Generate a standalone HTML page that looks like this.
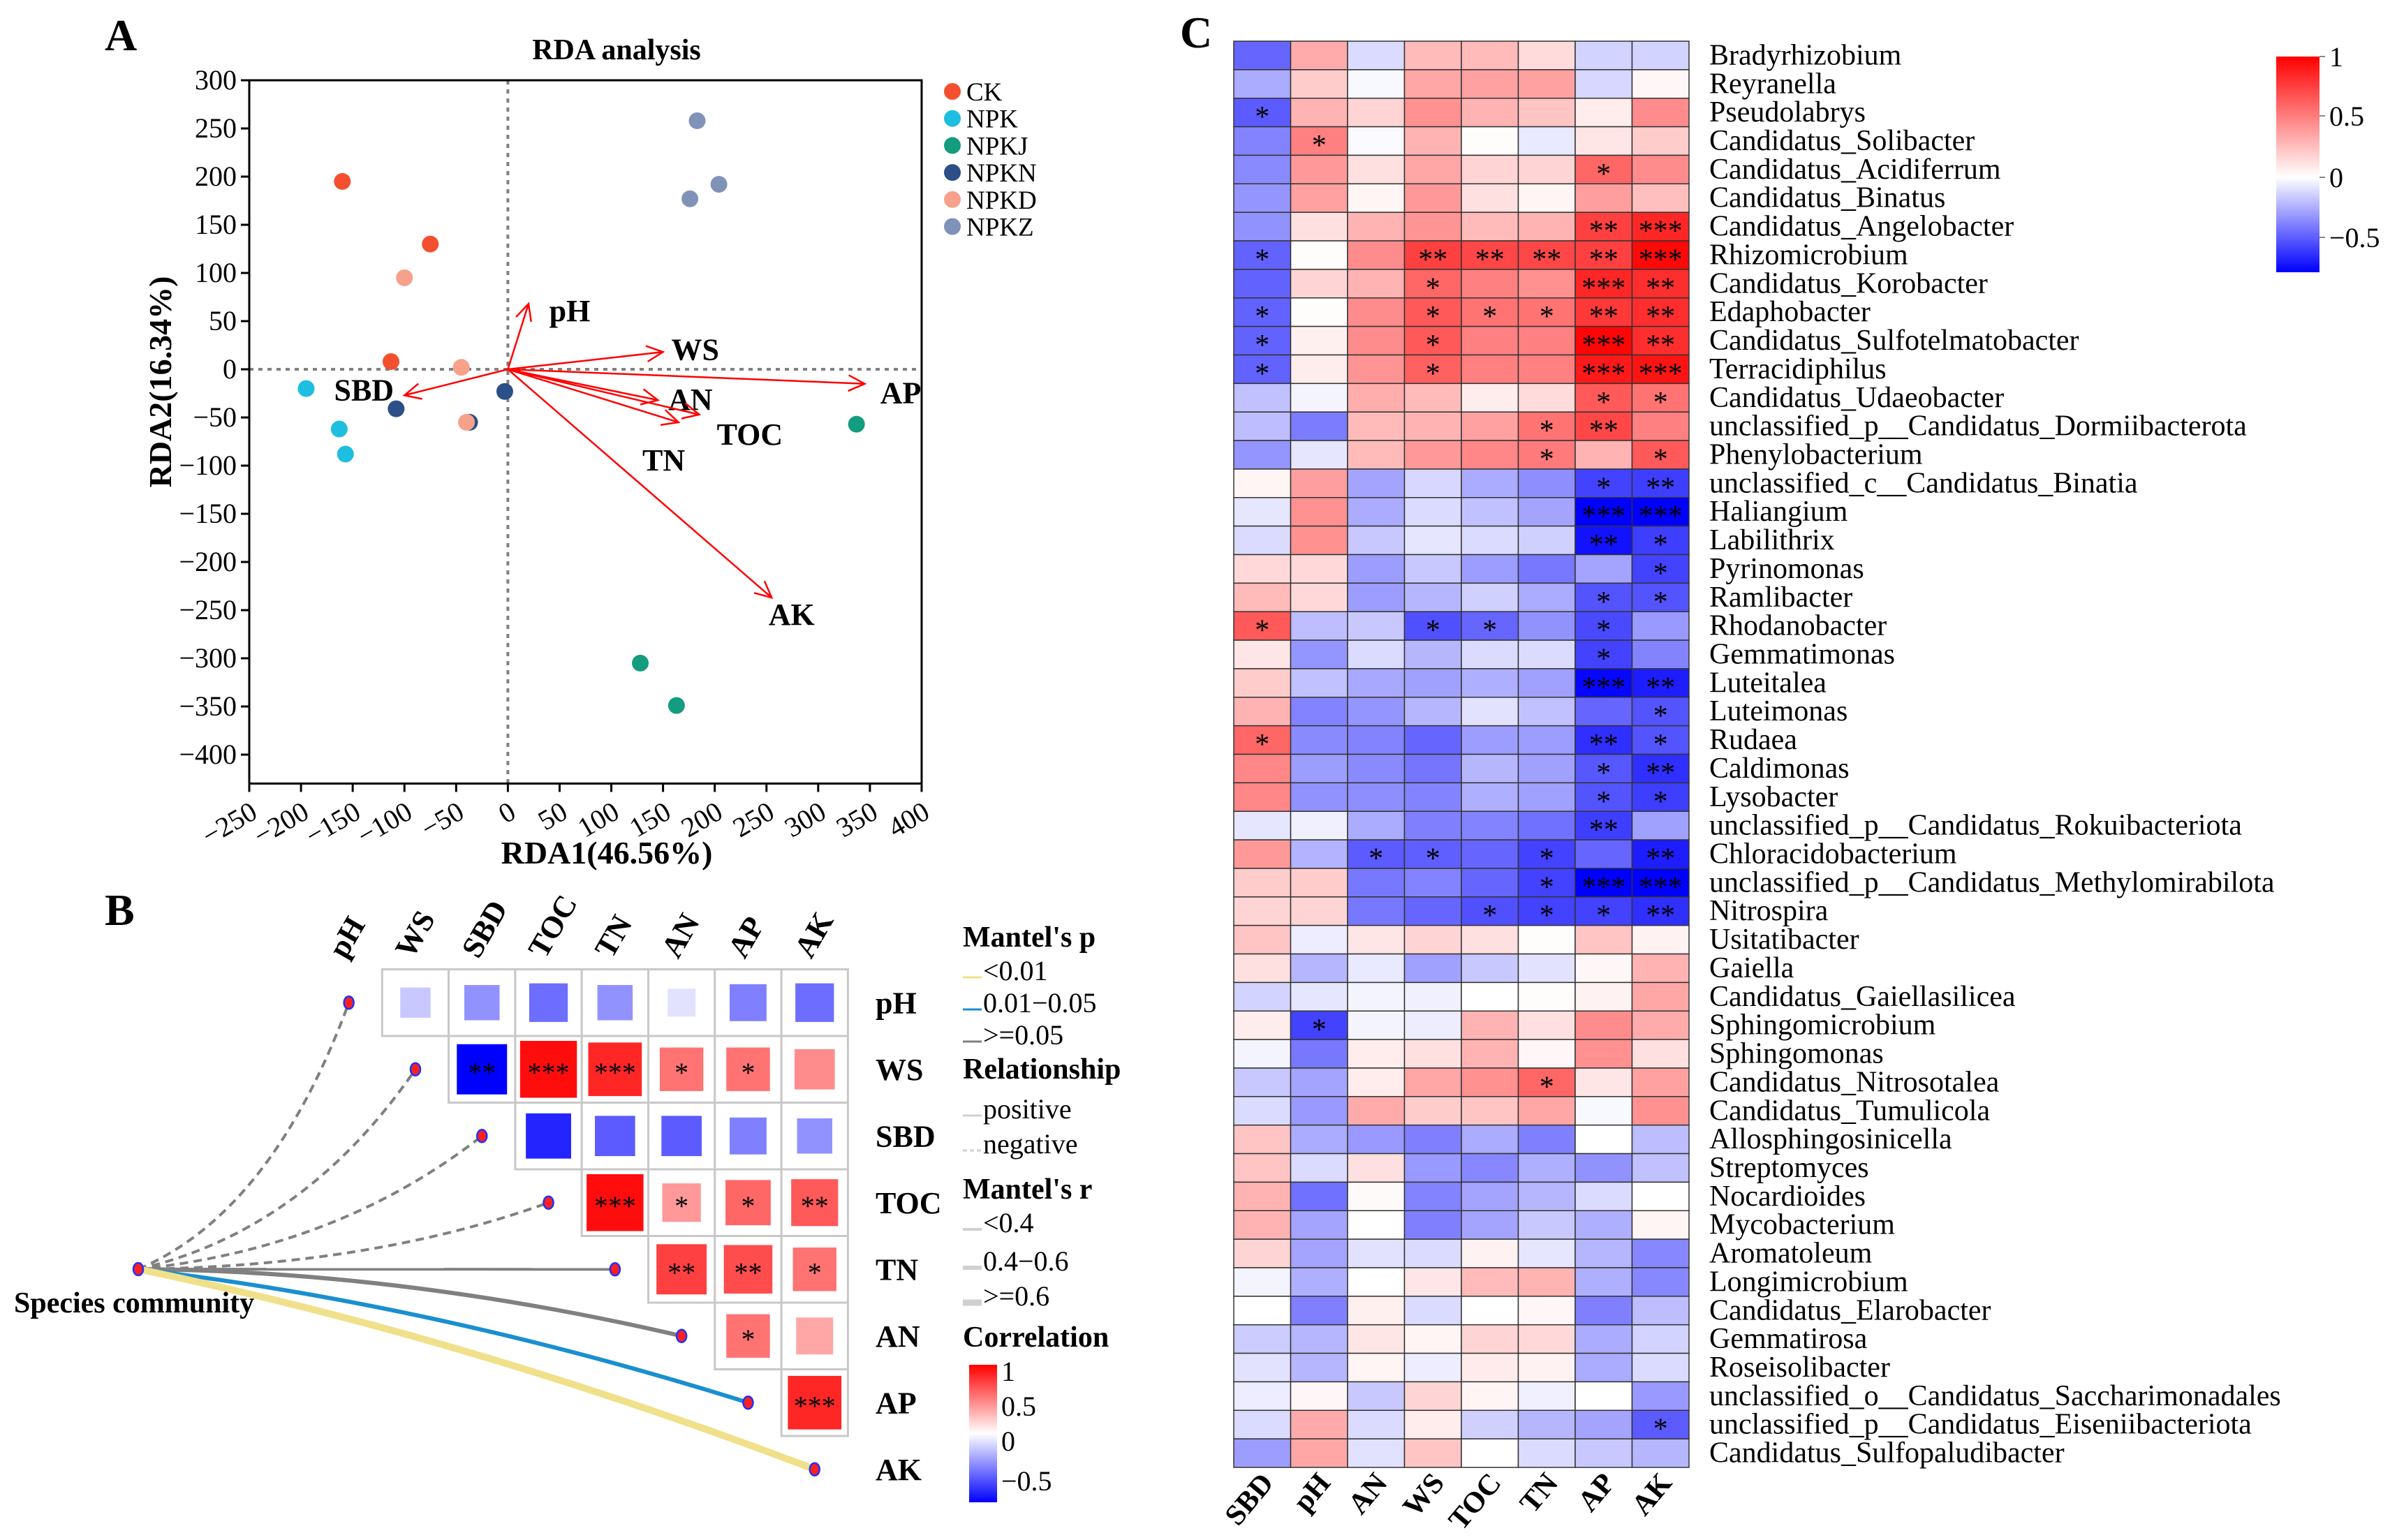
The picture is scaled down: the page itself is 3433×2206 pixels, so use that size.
<!DOCTYPE html>
<html><head><meta charset="utf-8"><style>
html,body{margin:0;padding:0;background:#fff;}
svg{display:block;font-family:"Liberation Serif",serif;}
</style></head><body>
<svg id="fig" width="3433" height="2206" viewBox="0 0 3433 2206" xmlns="http://www.w3.org/2000/svg">
<defs>
<linearGradient id="gC" x1="0" y1="0" x2="0" y2="1">
<stop offset="0" stop-color="#ff0000"/><stop offset="0.56" stop-color="#ffffff"/><stop offset="1" stop-color="#0000ff"/>
</linearGradient>
<linearGradient id="gB" x1="0" y1="0" x2="0" y2="1">
<stop offset="0" stop-color="#ff0000"/><stop offset="0.5" stop-color="#ffffff"/><stop offset="1" stop-color="#0000ff"/>
</linearGradient>
</defs>
<g id="panelA"></g>
<g id="panelB"></g>
<g id="panelC"></g>
</svg>
<script>
// ===== Panel A data =====
const groupNames = ["CK","NPK","NPKJ","NPKN","NPKD","NPKZ"];
const groupColors = ["#f4502f","#1ebee0","#149c7f","#2b4f86","#f7a08a","#8192b8"];
const pointX = [[-160,-75,-113],[-195,-163,-157],[337,128,163],[-108,-37,-3],[-100,-45,-40],[183,204,176]];
const pointY = [[195,130,8],[-20,-62,-88],[-57,-305,-349],[-41,-55,-23],[95,2,-55],[258,192,177]];
const arrowNames = ["pH","WS","AP","AN","TOC","TN","AK","SBD"];
const arrowX = [20,150,345,145,185,165,255,-100];
const arrowY = [68,18,-15,-32,-47,-55,-237,-27];
const arrowLabelX = [40,158,360,155,202,130,252,-168];
const arrowLabelY = [60,20,-25,-32,-68,-95,-255,-22];
const xTicks = [-250,-200,-150,-100,-50,0,50,100,150,200,250,300,350,400];
const yTicks = [300,250,200,150,100,50,0,-50,-100,-150,-200,-250,-300,-350,-400];

// ===== Panel B data =====
const envB = ["pH","WS","SBD","TOC","TN","AN","AP","AK"];
const pairR = [
 [null,-0.15,-0.3,-0.4,-0.3,-0.08,-0.35,-0.4],
 [null,null,-0.75,0.95,0.85,0.55,0.55,0.45],
 [null,null,null,-0.6,-0.45,-0.45,-0.35,-0.3],
 [null,null,null,null,0.95,0.4,0.6,0.65],
 [null,null,null,null,null,0.75,0.7,0.55],
 [null,null,null,null,null,null,0.55,0.35],
 [null,null,null,null,null,null,null,0.85]
];
const pairSig = [
 ["","","","","","","",""],
 ["","","**","***","***","*","*",""],
 ["","","","","","","",""],
 ["","","","","***","*","*","**"],
 ["","","","","","**","**","*"],
 ["","","","","","","*",""],
 ["","","","","","","","***"]
];
const mantelP = ["ns","ns","ns","ns","ns","ns","mid","low"];
const mantelR = [0.3,0.3,0.3,0.3,0.3,0.5,0.5,0.7];

// ===== Panel C data =====
const genera = ["Bradyrhizobium","Reyranella","Pseudolabrys","Candidatus_Solibacter","Candidatus_Acidiferrum","Candidatus_Binatus","Candidatus_Angelobacter","Rhizomicrobium","Candidatus_Korobacter","Edaphobacter","Candidatus_Sulfotelmatobacter","Terracidiphilus","Candidatus_Udaeobacter","unclassified_p__Candidatus_Dormiibacterota","Phenylobacterium","unclassified_c__Candidatus_Binatia","Haliangium","Labilithrix","Pyrinomonas","Ramlibacter","Rhodanobacter","Gemmatimonas","Luteitalea","Luteimonas","Rudaea","Caldimonas","Lysobacter","unclassified_p__Candidatus_Rokuibacteriota","Chloracidobacterium","unclassified_p__Candidatus_Methylomirabilota","Nitrospira","Usitatibacter","Gaiella","Candidatus_Gaiellasilicea","Sphingomicrobium","Sphingomonas","Candidatus_Nitrosotalea","Candidatus_Tumulicola","Allosphingosinicella","Streptomyces","Nocardioides","Mycobacterium","Aromatoleum","Longimicrobium","Candidatus_Elarobacter","Gemmatirosa","Roseisolibacter","unclassified_o__Candidatus_Saccharimonadales","unclassified_p__Candidatus_Eiseniibacteriota","Candidatus_Sulfopaludibacter"];
const envC = ["SBD","pH","AN","WS","TOC","TN","AP","AK"];
const corrC = [
[-0.42,0.33,-0.1,0.27,0.27,0.14,-0.12,-0.12],
[-0.23,0.2,-0.02,0.35,0.37,0.37,-0.11,0.03],
[-0.45,0.3,0.17,0.43,0.3,0.23,0.07,0.45],
[-0.34,0.5,-0.01,0.3,0.01,-0.06,0.1,0.2],
[-0.32,0.4,0.12,0.35,0.17,0.17,0.6,0.45],
[-0.29,0.37,0.04,0.4,0.12,0.04,0.38,0.25],
[-0.3,0.12,0.3,0.42,0.27,0.3,0.75,0.85],
[-0.43,0.01,0.45,0.75,0.72,0.72,0.75,0.97],
[-0.43,0.17,0.3,0.6,0.5,0.43,0.85,0.82],
[-0.43,0.01,0.45,0.65,0.55,0.55,0.78,0.82],
[-0.43,0.06,0.45,0.65,0.5,0.5,0.98,0.82],
[-0.43,0.07,0.42,0.62,0.5,0.5,0.9,0.92],
[-0.17,-0.03,0.32,0.27,0.07,0.14,0.65,0.55],
[-0.18,-0.36,0.27,0.3,0.37,0.55,0.72,0.5],
[-0.29,-0.07,0.27,0.4,0.47,0.52,0.3,0.65],
[0.04,0.38,-0.25,-0.11,-0.23,-0.31,-0.52,-0.53],
[-0.07,0.43,-0.23,-0.1,-0.17,-0.25,-0.7,-0.7],
[-0.1,0.43,-0.15,-0.07,-0.1,-0.13,-0.65,-0.53],
[0.15,0.15,-0.27,-0.15,-0.27,-0.37,-0.25,-0.52],
[0.27,0.15,-0.27,-0.2,-0.13,-0.23,-0.47,-0.47],
[0.65,-0.18,-0.15,-0.48,-0.42,-0.3,-0.5,-0.28],
[0.1,-0.29,-0.1,-0.2,-0.1,-0.1,-0.52,-0.34],
[0.2,-0.17,-0.24,-0.26,-0.22,-0.26,-0.68,-0.62],
[0.3,-0.34,-0.29,-0.2,-0.08,-0.17,-0.42,-0.47],
[0.6,-0.32,-0.34,-0.42,-0.27,-0.27,-0.57,-0.47],
[0.47,-0.27,-0.32,-0.38,-0.2,-0.26,-0.46,-0.57],
[0.47,-0.3,-0.31,-0.34,-0.22,-0.26,-0.47,-0.53],
[-0.07,-0.04,-0.23,-0.35,-0.34,-0.39,-0.53,-0.26],
[0.4,-0.21,-0.45,-0.44,-0.42,-0.52,-0.42,-0.62],
[0.2,0.2,-0.37,-0.34,-0.42,-0.52,-0.7,-0.7],
[0.17,0.17,-0.37,-0.42,-0.48,-0.52,-0.52,-0.57],
[0.23,-0.05,0.1,0.17,0.12,0.01,0.23,0.05],
[0.12,-0.2,-0.06,-0.26,-0.15,-0.08,0.03,0.3],
[-0.12,-0.07,-0.03,-0.04,0,0.01,0.05,0.35],
[0.07,-0.52,-0.03,-0.05,0.3,0.12,0.45,0.33],
[-0.03,-0.37,0.07,0.12,0.3,0.03,0.43,0.12],
[-0.15,-0.25,0.07,0.35,0.43,0.6,0.1,0.37],
[-0.1,-0.28,0.33,0.2,0.23,0.35,-0.02,0.43],
[0.23,-0.23,-0.28,-0.35,-0.23,-0.35,0,-0.18],
[0.23,-0.1,0.12,-0.28,-0.33,-0.22,-0.3,-0.17],
[0.3,-0.39,0.02,-0.34,-0.25,-0.2,-0.1,0],
[0.3,-0.25,0,-0.35,-0.25,-0.15,-0.22,0.04],
[0.17,-0.25,-0.08,-0.1,0.05,-0.07,-0.2,-0.33],
[-0.03,-0.22,0,0.1,0.27,0.3,-0.22,-0.33],
[0,-0.35,0.06,-0.1,0,0.03,-0.35,-0.18],
[-0.14,-0.2,0.1,0.04,0.17,0.15,-0.23,-0.12],
[-0.08,-0.2,0.04,-0.05,0.08,0.05,-0.23,-0.1],
[-0.05,0.03,-0.15,0.17,0.04,-0.04,0,-0.28],
[-0.1,0.33,-0.1,0.07,-0.13,-0.2,-0.25,-0.45],
[-0.27,0.35,-0.08,0.23,0,-0.1,-0.15,-0.2]
];
const sigC = [
"0 0 0 0 0 0 0 0","0 0 0 0 0 0 0 0","1 0 0 0 0 0 0 0","0 1 0 0 0 0 0 0","0 0 0 0 0 0 1 0",
"0 0 0 0 0 0 0 0","0 0 0 0 0 0 2 3","1 0 0 2 2 2 2 3","0 0 0 1 0 0 3 2","1 0 0 1 1 1 2 2",
"1 0 0 1 0 0 3 2","1 0 0 1 0 0 3 3","0 0 0 0 0 0 1 1","0 0 0 0 0 1 2 0","0 0 0 0 0 1 0 1",
"0 0 0 0 0 0 1 2","0 0 0 0 0 0 3 3","0 0 0 0 0 0 2 1","0 0 0 0 0 0 0 1","0 0 0 0 0 0 1 1",
"1 0 0 1 1 0 1 0","0 0 0 0 0 0 1 0","0 0 0 0 0 0 3 2","0 0 0 0 0 0 0 1","1 0 0 0 0 0 2 1",
"0 0 0 0 0 0 1 2","0 0 0 0 0 0 1 1","0 0 0 0 0 0 2 0","0 0 1 1 0 1 0 2","0 0 0 0 0 1 3 3",
"0 0 0 0 1 1 1 2","0 0 0 0 0 0 0 0","0 0 0 0 0 0 0 0","0 0 0 0 0 0 0 0","0 1 0 0 0 0 0 0",
"0 0 0 0 0 0 0 0","0 0 0 0 0 1 0 0","0 0 0 0 0 0 0 0","0 0 0 0 0 0 0 0","0 0 0 0 0 0 0 0",
"0 0 0 0 0 0 0 0","0 0 0 0 0 0 0 0","0 0 0 0 0 0 0 0","0 0 0 0 0 0 0 0","0 0 0 0 0 0 0 0",
"0 0 0 0 0 0 0 0","0 0 0 0 0 0 0 0","0 0 0 0 0 0 0 0","0 0 0 0 0 0 0 1","0 0 0 0 0 0 0 0"
];

const NS = "http://www.w3.org/2000/svg";
function mk(parent, tag, attrs, text){
  const e = document.createElementNS(NS, tag);
  for (const k in attrs) e.setAttribute(k, attrs[k]);
  if (text !== undefined) e.textContent = text;
  parent.appendChild(e);
  return e;
}
function corrColor(r){
  if (r >= 0){ const t = Math.min(1, r); const v = Math.round(255*(1-t)); return `rgb(255,${v},${v})`; }
  const t = Math.min(1, -r/0.7); const v = Math.round(255*(1-t)); return `rgb(${v},${v},255)`;
}

// ================= PANEL A =================
(function(){
  const g = document.getElementById("panelA");
  const xs = v => 357 + (v + 250) * 1.4815;
  const ys = v => 115 + (300 - v) * 1.38;
  let e;
  e = mk(g,"text",{x:150,y:72,"font-size":64,"font-weight":"bold"},"A");
   
  e = mk(g,"text",{x:883,y:85,"font-size":42,"font-weight":"bold","text-anchor":"middle"},"RDA analysis");
   
  e = mk(g,"line",{x1:xs(0),y1:ys(300),x2:xs(0),y2:ys(-430),stroke:"#808080","stroke-width":4,"stroke-dasharray":"6,7"});
   
  e = mk(g,"line",{x1:xs(-250),y1:ys(0),x2:xs(400),y2:ys(0),stroke:"#808080","stroke-width":4,"stroke-dasharray":"6,7"});
   
  e = mk(g,"rect",{x:xs(-250),y:ys(300),width:xs(400)-xs(-250),height:ys(-430)-ys(300),fill:"none",stroke:"#000","stroke-width":3});
   
  yTicks.forEach(v=>{
    e = mk(g,"line",{x1:xs(-250)-12,y1:ys(v),x2:xs(-250),y2:ys(v),stroke:"#000","stroke-width":3});
     
    e = mk(g,"text",{x:xs(-250)-18,y:ys(v)+13,"font-size":40,"text-anchor":"end"},v<0?"\u2212"+(-v):String(v));
     
  });
  xTicks.forEach(v=>{
    e = mk(g,"line",{x1:xs(v),y1:ys(-430),x2:xs(v),y2:ys(-430)+12,stroke:"#000","stroke-width":3});
     
    const tx = xs(v)+14, ty = ys(-430)+48;
    e = mk(g,"text",{x:tx,y:ty,"font-size":40,"text-anchor":"end",transform:`rotate(-30 ${tx} ${ty})`},v<0?"\u2212"+(-v):String(v));
     
  });
  e = mk(g,"text",{x:869,y:1237,"font-size":46,"font-weight":"bold","text-anchor":"middle"},"RDA1(46.56%)");
   
  e = mk(g,"text",{x:0,y:0,"font-size":46,"font-weight":"bold","text-anchor":"middle",transform:"translate(245 547) rotate(-90)"},"RDA2(16.34%)");
   
  arrowNames.forEach((n,i)=>{
    const x0=xs(0), y0=ys(0), x1=xs(arrowX[i]), y1=ys(arrowY[i]);
    const a = Math.atan2(y1-y0, x1-x0), L=26, w=0.45;
    e = mk(g,"line",{x1:x0,y1:y0,x2:x1,y2:y1,stroke:"#ff0000","stroke-width":2.5});
     
    e = mk(g,"polyline",{points:`${x1-L*Math.cos(a-w)},${y1-L*Math.sin(a-w)} ${x1},${y1} ${x1-L*Math.cos(a+w)},${y1-L*Math.sin(a+w)}`,fill:"none",stroke:"#ff0000","stroke-width":2.5});
     
    e = mk(g,"text",{x:xs(arrowLabelX[i]),y:ys(arrowLabelY[i])+14,"font-size":44,"font-weight":"bold"},n);
     
  });
  groupNames.forEach((n,gi)=>{
    pointX[gi].forEach((px,k)=>{
      e = mk(g,"circle",{cx:xs(px),cy:ys(pointY[gi][k]),r:12,fill:groupColors[gi]});
       
    });
    const ly = 131 + gi*38.7;
    e = mk(g,"circle",{cx:1364,cy:ly,r:12,fill:groupColors[gi]});
     
    e = mk(g,"text",{x:1384,y:ly+13,"font-size":37},n);
     
  });
})();

// ================= PANEL B =================
(function(){
  const g = document.getElementById("panelB");
  const cw = 95.3, ch = 95.5, gx = 452, gy = 1388.5;
  let e;
  e = mk(g,"text",{x:150,y:1325,"font-size":64,"font-weight":"bold"},"B");
   
  envB.forEach((n,j)=>{
    const tx = gx + j*cw + cw/2 - 5, ty = 1375;
    e = mk(g,"text",{x:tx,y:ty,"font-size":44,"font-weight":"bold",transform:`rotate(-60 ${tx} ${ty})`},n);
     
    e = mk(g,"text",{x:1254,y:gy + j*ch + ch/2 + 15,"font-size":44,"font-weight":"bold"},n);
     
  });
  for (let i=0;i<7;i++){
    for (let j=i+1;j<8;j++){
      const x = gx + j*cw, y = gy + i*ch;
      e = mk(g,"rect",{x:x,y:y,width:cw,height:ch,fill:"#fff",stroke:"#c8c8c8","stroke-width":3});
       
      const r = pairR[i][j]; const s = cw*(0.38+0.5*Math.min(1,Math.abs(r)));
      e = mk(g,"rect",{x:x+(cw-s)/2,y:y+(ch-s)/2,width:s,height:s,fill:corrColor(r)});
       
      if (pairSig[i][j]){
        e = mk(g,"text",{x:x+cw/2,y:y+ch/2+18,"font-size":40,"text-anchor":"middle"},pairSig[i][j]);
         
      }
    }
  }
  const sx = 198, sy = 1818;
  const pColor = {ns:"#808080",mid:"#1a8fd0",low:"#f0e08a"};
  envB.forEach((n,k)=>{
    const nx = gx + k*cw + cw/2, ny = gy + k*ch + ch/2;
    const w = mantelR[k] < 0.4 ? 4 : (mantelR[k] < 0.6 ? 6 : 10);
    const dashed = k < 4;
    let cx = (sx+nx)/2, cy = (sy+ny)/2;
    if (k < 4){ cx += 40; cy += 110 - k*22; }
    else if (k > 4){ cx -= 10; cy -= 45; }
    const attrs = {d:`M${sx},${sy} Q${cx},${cy} ${nx},${ny}`,fill:"none",stroke:pColor[mantelP[k]],"stroke-width":w};
    if (dashed) attrs["stroke-dasharray"]="12,8";
    e = mk(g,"path",attrs);
     
    e = mk(g,"ellipse",{cx:nx,cy:ny,rx:7,ry:9,fill:"#ff2020",stroke:"#2030ff","stroke-width":2.5});
     
  });
  e = mk(g,"ellipse",{cx:sx,cy:sy,rx:7,ry:9,fill:"#ff2020",stroke:"#2030ff","stroke-width":2.5});
   
  e = mk(g,"text",{x:20,y:1880,"font-size":42,"font-weight":"bold"},"Species community");
   
  const lx = 1379, tx = 1408;
  const hdr = [["Mantel's p",1356],["Relationship",1545],["Mantel's r",1717],["Correlation",1929]];
  hdr.forEach(h=>{
    e = mk(g,"text",{x:lx,y:h[1],"font-size":42,"font-weight":"bold"},h[0]);
     
  });
  const items = [["<0.01",1404,"#f0e08a",3,false],["0.01\u22120.05",1450,"#1a8fd0",3,false],[">=0.05",1496,"#808080",3,false],
    ["positive",1602,"#d0d0d0",3,false],["negative",1652,"#d0d0d0",3,true],
    ["<0.4",1765,"#d0d0d0",4,false],["0.4\u22120.6",1820,"#d0d0d0",6,false],[">=0.6",1870,"#d0d0d0",9,false]];
  items.forEach(it=>{
    const a = {x1:lx,y1:it[1]-4,x2:tx-2,y2:it[1]-4,stroke:it[2],"stroke-width":it[3]};
    if (it[4]) a["stroke-dasharray"]="6,4";
    e = mk(g,"line",a);
     
    e = mk(g,"text",{x:tx,y:it[1],"font-size":40},it[0]);
     
  });
  e = mk(g,"rect",{x:1388,y:1955,width:40,height:197,fill:"url(#gB)"});
   
  [["1",1964],["0.5",2014],["0",2064],["\u22120.5",2121]].forEach(t=>{
    e = mk(g,"text",{x:1434,y:t[1]+14,"font-size":40},t[0]);
     
  });
})();

// ================= PANEL C =================
(function(){
  const g = document.getElementById("panelC");
  const x0 = 1767, cw = 81.5, y0 = 59, rh = 40.86;
  let e;
  e = mk(g,"text",{x:1690,y:68,"font-size":64,"font-weight":"bold"},"C");
   
  genera.forEach((name,i)=>{
    const sig = sigC[i].split(" ").map(Number);
    envC.forEach((c,j)=>{
      e = mk(g,"rect",{x:x0+j*cw,y:y0+i*rh,width:cw,height:rh,fill:corrColor(corrC[i][j]),stroke:"#333","stroke-width":1.5});
       
      if (sig[j]>0){
        e = mk(g,"text",{x:x0+j*cw+cw/2,y:y0+i*rh+rh/2+20,"font-size":42,"text-anchor":"middle"},"*".repeat(sig[j]));
         
      }
    });
    e = mk(g,"text",{x:2448,y:y0+i*rh+rh/2+13,"font-size":42},name);
     
  });
  envC.forEach((c,j)=>{
    const tx = x0+j*cw+cw/2+18, ty = 2125;
    e = mk(g,"text",{x:tx,y:ty,"font-size":42,"font-weight":"bold","text-anchor":"end",transform:`rotate(-50 ${tx} ${ty})`},c);
     
  });
  e = mk(g,"rect",{x:3260,y:81,width:62,height:309,fill:"url(#gC)"});
   
  [["1",81],["0.5",166],["0",254],["\u22120.5",340]].forEach(t=>{
    e = mk(g,"line",{x1:3322,y1:t[1],x2:3330,y2:t[1],stroke:"#888","stroke-width":2});
     
    e = mk(g,"text",{x:3336,y:t[1]+14,"font-size":40},t[0]);
     
  });
})();
</script>
</body></html>
